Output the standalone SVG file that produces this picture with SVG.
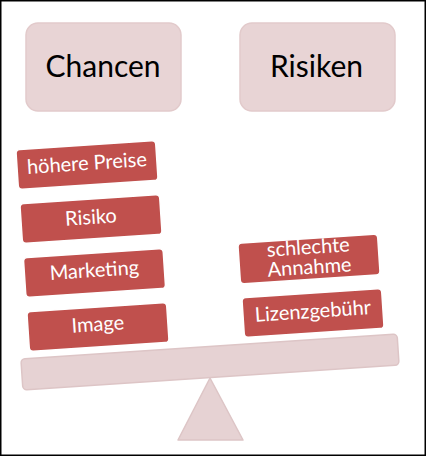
<svg xmlns="http://www.w3.org/2000/svg" width="426" height="456" viewBox="0 0 426 456">
<style>
.hd{fill:#e8d4d5;stroke:#e2cacb;stroke-width:1.5}
.hdt{font-family:Lato,"Open Sans",sans-serif;font-size:30px;fill:#000;text-anchor:middle}
.rb{fill:#c0504d;stroke:#ffffff;stroke-width:1.5}
.rt{font-family:Lato,"Open Sans",sans-serif;font-size:20px;fill:#fff;text-anchor:middle}
.sc{fill:#e6d2d3;stroke:#ddc5c6;stroke-width:1.5;stroke-linejoin:round}
</style>
<rect x="0" y="0" width="426" height="456" fill="#fff"/>
<g id="scale">
<path class="sc" d="M210 378 L243 440 L178 440 Z"/>
<g transform="translate(210,362) rotate(-3.8)"><rect class="sc" x="-188.5" y="-15.5" width="377" height="31" rx="4"/></g>
</g>
<g id="chancen"><rect class="hd" x="26" y="23" width="155" height="88" rx="12"/><text class="hdt" x="103" y="77">Chancen</text></g>
<g id="risiken"><rect class="hd" x="240" y="23" width="155" height="88" rx="12"/><text class="hdt" x="316.5" y="77">Risiken</text></g>
<g id="hoehere-preise" transform="translate(87,165) rotate(-3.8)"><rect class="rb" x="-70" y="-20" width="140" height="40" rx="4"/><text class="rt" x="0" y="5">höhere Preise</text></g>
<g id="risiko" transform="translate(91,219) rotate(-3.8)"><rect class="rb" x="-70" y="-20" width="140" height="40" rx="4"/><text class="rt" x="0" y="5">Risiko</text></g>
<g id="marketing" transform="translate(94.5,273) rotate(-3.8)"><rect class="rb" x="-70" y="-20" width="140" height="40" rx="4"/><text class="rt" x="0" y="4">Marketing</text></g>
<g id="image" transform="translate(98,327) rotate(-3.8)"><rect class="rb" x="-70" y="-20" width="140" height="40" rx="4"/><text class="rt" x="0" y="4">Image</text></g>
<g id="schlechte-annahme" transform="translate(309,259) rotate(-3.8)"><rect class="rb" x="-70" y="-20.5" width="140" height="41" rx="4"/><text class="rt" x="0" y="-5">schlechte</text><text class="rt" x="0" y="15">Annahme</text></g>
<g id="lizenzgebuehr" transform="translate(313,313) rotate(-3.8)"><rect class="rb" x="-70" y="-20" width="140" height="40" rx="4"/><text class="rt" x="0" y="5">Lizenzgebühr</text></g>
<g id="connectors"/>
<rect x="0.75" y="0.75" width="424.5" height="454.5" fill="none" stroke="#000" stroke-width="1.5"/>
</svg>
